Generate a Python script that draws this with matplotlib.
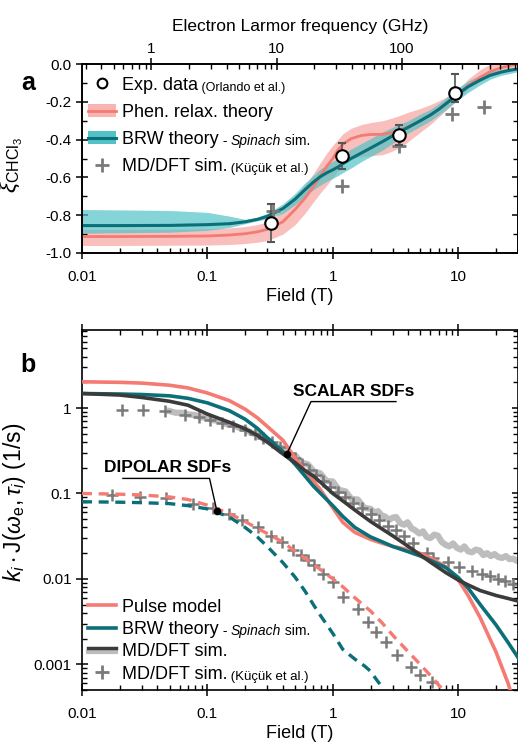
import matplotlib
matplotlib.use("Agg")
import matplotlib.pyplot as plt
from matplotlib.lines import Line2D
from matplotlib.patches import Patch
from matplotlib.legend_handler import HandlerBase
from matplotlib.ticker import FixedLocator, FixedFormatter, LogLocator, MultipleLocator, NullFormatter

plt.rcParams['font.family'] = ['Liberation Sans', 'DejaVu Sans']
plt.rcParams['axes.unicode_minus'] = False
plt.rcParams['mathtext.fontset'] = 'custom'
plt.rcParams['mathtext.rm'] = 'Liberation Sans'
plt.rcParams['mathtext.it'] = 'Liberation Sans:italic'
plt.rcParams['mathtext.bf'] = 'Liberation Sans:bold'

GHZ_PER_T = 28.025

RED = '#f47a73'
RED_BAND = '#f8b4b1'
TEAL = '#0b6f78'
TEAL_BAND = '#52c2c6'
DARK = '#3b3b3b'
LIGHT = '#bdbdbd'
PLUS = '#7a7a7a'

# ---- panel a: xi_CHCl3 vs field ----
a_field = [0.01, 0.02, 0.05, 0.1, 0.15, 0.2, 0.25, 0.3, 0.4, 0.5, 0.6, 0.7, 0.8, 0.9, 1.0,
           1.1, 1.2, 1.4, 1.7, 2.0, 2.5, 3.0, 3.5, 4.0, 5.0, 6.0, 7.0, 8.0, 10, 12, 15, 18, 22, 26, 30]
phen = [-0.913, -0.913, -0.912, -0.910, -0.905, -0.898, -0.888, -0.875, -0.835, -0.77, -0.71, -0.65,
        -0.59, -0.54, -0.50, -0.455, -0.425, -0.395, -0.378, -0.373, -0.372, -0.362, -0.348, -0.332,
        -0.30, -0.27, -0.24, -0.21, -0.16, -0.115, -0.07, -0.04, -0.02, -0.008, 0.0]
phen_lo = [-0.96, -0.96, -0.959, -0.958, -0.955, -0.95, -0.943, -0.935, -0.90, -0.85, -0.79, -0.73,
           -0.68, -0.64, -0.60, -0.565, -0.53, -0.50, -0.49, -0.485, -0.48, -0.46, -0.44, -0.41,
           -0.36, -0.32, -0.28, -0.245, -0.185, -0.13, -0.09, -0.06, -0.04, -0.02, -0.01]
phen_hi = [-0.875, -0.875, -0.874, -0.872, -0.867, -0.86, -0.85, -0.835, -0.78, -0.70, -0.64, -0.58,
           -0.52, -0.47, -0.43, -0.40, -0.37, -0.34, -0.32, -0.31, -0.30, -0.285, -0.27, -0.255,
           -0.235, -0.215, -0.195, -0.175, -0.135, -0.08, -0.03, 0.0, 0.01, 0.01, 0.01]
brw = [-0.855, -0.855, -0.854, -0.850, -0.845, -0.835, -0.822, -0.806, -0.765, -0.715, -0.665, -0.625,
       -0.595, -0.575, -0.56, -0.545, -0.528, -0.50, -0.47, -0.445, -0.41, -0.38, -0.355, -0.335,
       -0.30, -0.27, -0.24, -0.21, -0.158, -0.12, -0.085, -0.06, -0.043, -0.033, -0.026]
brw_lo = [-0.895, -0.893, -0.89, -0.88, -0.865, -0.845, -0.83, -0.82, -0.79, -0.745, -0.70, -0.665,
          -0.64, -0.62, -0.605, -0.59, -0.575, -0.55, -0.515, -0.49, -0.455, -0.42, -0.39, -0.365,
          -0.33, -0.30, -0.27, -0.24, -0.19, -0.15, -0.11, -0.08, -0.06, -0.05, -0.04]
brw_hi = [-0.77, -0.772, -0.775, -0.785, -0.805, -0.822, -0.812, -0.79, -0.74, -0.685, -0.63, -0.59,
          -0.555, -0.535, -0.515, -0.50, -0.48, -0.45, -0.42, -0.395, -0.36, -0.335, -0.315, -0.30,
          -0.265, -0.24, -0.21, -0.18, -0.125, -0.09, -0.06, -0.04, -0.03, -0.02, -0.015]

exp_field = [0.32, 1.19, 3.4, 9.4]
exp_xi = [-0.843, -0.485, -0.376, -0.155]
exp_err_lo = [0.10, 0.068, 0.055, 0.045]
exp_err_hi = [0.10, 0.068, 0.055, 0.10]

md_a_field = [0.333, 1.19, 3.4, 9.0, 16.2]
md_a_xi = [-0.78, -0.644, -0.434, -0.266, -0.226]

# ---- panel b: spectral density functions ----
b_field = [0.01, 0.02, 0.03, 0.05, 0.07, 0.1, 0.15, 0.2, 0.25, 0.3, 0.4, 0.5, 0.6, 0.7, 0.8, 1.0,
           1.2, 1.5, 2.0, 2.5, 3.0, 4.0, 5.0, 6.0, 8.0, 10, 12, 15, 20, 25, 30]
pulse_scalar = [2.03, 2.0, 1.96, 1.85, 1.72, 1.5, 1.22, 0.97, 0.77, 0.61, 0.42, 0.26, 0.185, 0.14,
                0.11, 0.068, 0.046, 0.035, 0.029, 0.026, 0.024, 0.022, 0.0198, 0.0177, 0.0138,
                0.0098, 0.0064, 0.0035, 0.0014, 0.0006, 0.00025]
brw_scalar = [1.48, 1.46, 1.44, 1.39, 1.3, 1.15, 0.93, 0.74, 0.58, 0.45, 0.31, 0.22, 0.16, 0.122,
              0.1, 0.072, 0.054, 0.04, 0.031, 0.027, 0.024, 0.0208, 0.0185, 0.0165, 0.0135,
              0.0104, 0.0078, 0.0050, 0.0029, 0.0018, 0.0012]
md_scalar = [1.48, 1.42, 1.33, 1.2, 1.08, 0.85, 0.68, 0.57, 0.48, 0.40, 0.29, 0.23, 0.185, 0.16,
             0.135, 0.1, 0.082, 0.064, 0.047, 0.038, 0.032, 0.024, 0.019, 0.0157, 0.0118,
             0.0097, 0.0085, 0.0073, 0.0064, 0.0059, 0.0055]

dip_field = [0.01, 0.02, 0.03, 0.05, 0.07, 0.1, 0.15, 0.2, 0.25, 0.3, 0.4, 0.5, 0.6, 0.7, 0.8, 1.0,
             1.2, 1.5, 2.0, 2.5, 3.0, 4.0, 5.0, 6.0, 7.0, 8.0]
pulse_dipolar = [0.1, 0.098, 0.096, 0.091, 0.085, 0.073, 0.058, 0.047, 0.039, 0.034, 0.027, 0.021,
                 0.0175, 0.0148, 0.0128, 0.0100, 0.0081, 0.0060, 0.0042, 0.0030, 0.0022, 0.0014,
                 0.00099, 0.00074, 0.00057, 0.00046]
brw_dip_field = [0.01, 0.02, 0.03, 0.05, 0.07, 0.1, 0.15, 0.2, 0.25, 0.3, 0.4, 0.5, 0.6, 0.7, 0.8,
                 1.0, 1.2, 1.5, 1.8, 2.0, 2.2, 2.5]
brw_dipolar = [0.08, 0.079, 0.078, 0.076, 0.072, 0.066, 0.053, 0.040, 0.031, 0.024, 0.0155, 0.0105,
               0.0072, 0.0050, 0.0037, 0.0023, 0.0015, 0.00115, 0.00095, 0.00083, 0.00068, 0.00053]

# noisy MD/DFT trace (light grey)
md_raw_field = [0.05, 0.056, 0.063, 0.071, 0.079, 0.089, 0.1, 0.112, 0.126, 0.141, 0.158, 0.178,
                0.2, 0.224, 0.251, 0.282, 0.316, 0.355, 0.398, 0.447, 0.501, 0.562, 0.631, 0.708,
                0.794, 0.891, 1.0, 1.12, 1.26, 1.41, 1.58, 1.78,
                2.0, 2.15, 2.3, 2.45, 2.6, 2.8, 3.0, 3.2, 3.45, 3.7, 3.95, 4.25, 4.55, 4.9, 5.25,
                5.6, 6.0, 6.45, 6.9, 7.4, 7.95, 8.5, 9.1, 9.8, 10.5, 11.2, 12.0, 12.9, 13.8, 14.8,
                15.9, 17.0, 18.2, 19.5, 20.9, 22.4, 24.0, 25.7, 27.5, 29.5, 30]
md_raw = [0.92, 0.88, 0.88, 0.84, 0.83, 0.78, 0.77, 0.72, 0.71, 0.65, 0.64, 0.59, 0.57, 0.51, 0.49,
          0.43, 0.41, 0.35, 0.34, 0.28, 0.28, 0.23, 0.22, 0.18, 0.172, 0.14, 0.138, 0.11, 0.106,
          0.086, 0.085, 0.068,
          0.066, 0.060, 0.062, 0.055, 0.054, 0.049, 0.052, 0.053, 0.045, 0.043, 0.046, 0.039,
          0.037, 0.034, 0.036, 0.031, 0.030, 0.033, 0.032, 0.027, 0.025, 0.024, 0.026, 0.023,
          0.022, 0.024, 0.021, 0.0205, 0.022, 0.0215, 0.019, 0.020, 0.0185, 0.0195, 0.018,
          0.0176, 0.0185, 0.017, 0.0172, 0.0162, 0.0165]

kucuk_scalar_field = [0.0207, 0.0308, 0.0463, 0.066, 0.085, 0.105, 0.13, 0.16, 0.2, 0.24, 0.28,
                      0.33, 0.38, 0.44, 0.5, 0.57, 0.65, 0.73, 0.83, 0.95, 1.1, 1.25, 1.45, 1.7,
                      2.0, 2.35, 2.75, 3.2, 3.7, 4.4, 5.6, 6.3, 8.3, 10.2, 13, 15.5, 17.9, 20.9,
                      23.5, 27.4]
kucuk_scalar = [0.95, 0.95, 0.92, 0.84, 0.78, 0.72, 0.67, 0.62, 0.56, 0.5, 0.45, 0.4, 0.35, 0.3,
                0.26, 0.22, 0.19, 0.165, 0.14, 0.12, 0.103, 0.09, 0.078, 0.068, 0.058, 0.049,
                0.042, 0.037, 0.032, 0.026, 0.020, 0.0175, 0.0158, 0.0138, 0.0125, 0.0115,
                0.0108, 0.0100, 0.0094, 0.0088]
kucuk_dip_field = [0.0172, 0.029, 0.047, 0.077, 0.111, 0.15, 0.19, 0.253, 0.323, 0.39, 0.48, 0.56,
                   0.63, 0.71, 0.83, 1.0, 1.21, 1.58, 1.9, 2.2, 2.65, 3.28, 4.2, 5.0, 6.2]
kucuk_dip = [0.095, 0.092, 0.088, 0.075, 0.068, 0.058, 0.049, 0.041, 0.032, 0.027, 0.0216, 0.019,
             0.0166, 0.0144, 0.0115, 0.0091, 0.0061, 0.0044, 0.0031, 0.0024, 0.0018, 0.0013,
             0.00093, 0.00074, 0.00062]

# annotation anchors (field, value)
scalar_dot = (0.43, 0.29)
scalar_knee = (0.67, 1.19)
scalar_end = (3.19, 1.19)
scalar_label = (1.46, 1.58)
dip_dot = (0.119, 0.0625)
dip_knee = (0.104, 0.15)
dip_start = (0.0212, 0.15)
dip_label = (0.0483, 0.2)


class DoubleLine(HandlerBase):
    def create_artists(self, legend, orig_handle, xdescent, ydescent, width, height, fontsize, trans):
        y = height / 2 - ydescent
        x0, x1 = -xdescent, width - xdescent
        low = Line2D([x0, x1], [y - 1.6, y - 1.6], color=LIGHT, lw=3, transform=trans)
        up = Line2D([x0, x1], [y + 1.6, y + 1.6], color=DARK, lw=2.5, transform=trans)
        return [low, up]


def style_ticks(ax):
    ax.tick_params(which='major', direction='inout', length=8, width=1.1, labelsize=11)
    ax.tick_params(which='minor', direction='in', length=3.5, width=1.0)
    for s in ax.spines.values():
        s.set_linewidth(1.2)


def add_suffix(ax, txt, parts):
    prev = txt
    for s, kw in parts:
        prev = ax.annotate(s, xy=(1, 0), xycoords=prev, ha='left', va='bottom', zorder=10,
                           annotation_clip=False, **kw)


fig = plt.figure(figsize=(5.18, 7.44), dpi=100)

# ================= panel a =================
axa = fig.add_axes([82 / 518, 491 / 744, 436 / 518, 189 / 744])
axa.fill_between(a_field, phen_lo, phen_hi, color=RED_BAND, alpha=0.85, lw=0, zorder=1)
axa.fill_between(a_field, brw_lo, brw_hi, color=TEAL_BAND, alpha=0.7, lw=0, zorder=2)
axa.plot(a_field, phen, color=RED, lw=2, zorder=3)
axa.plot(a_field, brw, color=TEAL, lw=2.2, zorder=4)
axa.plot(md_a_field, md_a_xi, ls='none', marker='+', ms=10, mew=2, color=PLUS, zorder=5)
axa.errorbar(exp_field, exp_xi, yerr=[exp_err_lo, exp_err_hi], fmt='o', ms=9, mfc='white',
             mec='black', mew=1.5, ecolor='#555555', elinewidth=1.2, capsize=3, zorder=6)

axa.set_xscale('log')
axa.set_xlim(0.01, 30)
axa.set_ylim(-1.0, 0.0)
axa.yaxis.set_major_locator(MultipleLocator(0.2))
axa.yaxis.set_minor_locator(MultipleLocator(0.1))
axa.yaxis.set_major_formatter(plt.FuncFormatter(lambda v, p: f"{v:.1f}"))
axa.xaxis.set_major_locator(FixedLocator([0.01, 0.1, 1, 10]))
axa.xaxis.set_major_formatter(FixedFormatter(['0.01', '0.1', '1', '10']))
axa.xaxis.set_minor_locator(LogLocator(base=10, subs=range(2, 10)))
axa.xaxis.set_minor_formatter(NullFormatter())
style_ticks(axa)
axa.tick_params(axis='y', which='both', right=True)
axa.tick_params(axis='x', which='major', pad=8)
axa.set_xlabel('Field (T)', fontsize=13, labelpad=3)
axa.set_ylabel(r'$\xi_{\mathrm{CHCl}_3}$', fontsize=16.5)
axa.yaxis.set_label_coords(-0.13, 0.466)

axt = axa.twiny()
axt.set_xscale('log')
axt.set_xlim(0.01 * GHZ_PER_T, 30 * GHZ_PER_T)
axt.xaxis.set_major_locator(FixedLocator([1, 10, 100]))
axt.xaxis.set_major_formatter(FixedFormatter(['1', '10', '100']))
axt.xaxis.set_minor_locator(LogLocator(base=10, subs=range(2, 10)))
axt.xaxis.set_minor_formatter(NullFormatter())
style_ticks(axt)
axt.tick_params(axis='x', which='major', pad=1.5)
axt.set_xlabel('Electron Larmor frequency (GHz)', fontsize=12.5, labelpad=8)

h_exp = Line2D([], [], marker='o', ls='none', mfc='white', mec='black', ms=7, mew=1.5)
h_phen = (Patch(fc=RED_BAND, ec='none'), Line2D([], [], color=RED, lw=2))
h_brw = (Patch(fc=TEAL_BAND, ec='none'), Line2D([], [], color=TEAL, lw=2.2))
h_md = Line2D([], [], marker='+', ls='none', color=PLUS, ms=10, mew=2)
lega = axa.legend([h_exp, h_phen, h_brw, h_md],
                  ['Exp. data', 'Phen. relax. theory', 'BRW theory', 'MD/DFT sim.'],
                  loc='upper left', bbox_to_anchor=(-0.012, 0.99), frameon=False, fontsize=13,
                  handlelength=1.6, handletextpad=0.3, labelspacing=0.56, borderaxespad=0.2)
ta = lega.get_texts()
add_suffix(axa, ta[0], [(' (Orlando et al.)', dict(fontsize=9))])
add_suffix(axa, ta[2], [(' - ', dict(fontsize=10)), ('Spinach', dict(fontsize=10, style='italic')),
                        (' sim.', dict(fontsize=10))])
add_suffix(axa, ta[3], [(' (Küçük et al.)', dict(fontsize=9.5))])

fig.text(28 / 518, 1 - 83 / 744, 'a', fontsize=18, fontweight='bold', ha='center', va='center')

# ================= panel b =================
axb = fig.add_axes([82 / 518, 54 / 744, 436 / 518, 360 / 744])
axb.plot(md_raw_field, md_raw, color=LIGHT, lw=4.5, zorder=1)
axb.plot(kucuk_scalar_field, kucuk_scalar, ls='none', marker='+', ms=8, mew=1.8, color=PLUS, zorder=2)
axb.plot(kucuk_dip_field, kucuk_dip, ls='none', marker='+', ms=8, mew=1.8, color=PLUS, zorder=2)
axb.plot(b_field, pulse_scalar, color=RED, lw=2.6, zorder=3)
axb.plot(b_field, brw_scalar, color=TEAL, lw=2.6, zorder=4)
axb.plot(b_field, md_scalar, color=DARK, lw=2.6, zorder=5)
axb.plot(dip_field, pulse_dipolar, color=RED, lw=2.4, ls=(0, (3, 2)), zorder=3)
axb.plot(brw_dip_field, brw_dipolar, color=TEAL, lw=2.4, ls=(0, (3, 2)), zorder=4)

axb.set_xscale('log')
axb.set_yscale('log')
axb.set_xlim(0.01, 30)
axb.set_ylim(5e-4, 8.2)
axb.xaxis.set_major_locator(FixedLocator([0.01, 0.1, 1, 10]))
axb.xaxis.set_major_formatter(FixedFormatter(['0.01', '0.1', '1', '10']))
axb.xaxis.set_minor_locator(LogLocator(base=10, subs=range(2, 10)))
axb.xaxis.set_minor_formatter(NullFormatter())
axb.yaxis.set_major_locator(FixedLocator([0.001, 0.01, 0.1, 1]))
axb.yaxis.set_major_formatter(FixedFormatter(['0.001', '0.01', '0.1', '1']))
axb.yaxis.set_minor_locator(LogLocator(base=10, subs=range(2, 10), numticks=20))
axb.yaxis.set_minor_formatter(NullFormatter())
style_ticks(axb)
axb.tick_params(which='both', top=True, right=True)
axb.tick_params(axis='x', which='major', pad=8)
axb.set_xlabel('Field (T)', fontsize=13, labelpad=3)
axb.set_ylabel(r'$k_i\cdot\mathrm{J}(\omega_\mathrm{e},\tau_i)$ (1/s)', fontsize=16.5)
axb.yaxis.set_label_coords(-0.124, 0.52)

# annotations
axb.plot([scalar_dot[0], scalar_knee[0], scalar_end[0]], [scalar_dot[1], scalar_knee[1], scalar_end[1]],
         color='black', lw=1, zorder=7)
axb.plot(*scalar_dot, 'o', color='black', ms=4.5, zorder=8)
axb.text(*scalar_label, 'SCALAR SDFs', fontsize=12.5, fontweight='bold', ha='center', va='center', zorder=8)
axb.plot([dip_start[0], dip_knee[0], dip_dot[0]], [dip_start[1], dip_knee[1], dip_dot[1]],
         color='black', lw=1, zorder=7)
axb.plot(*dip_dot, 'o', color='black', ms=4.5, zorder=8)
axb.text(*dip_label, 'DIPOLAR SDFs', fontsize=12.5, fontweight='bold', ha='center', va='center', zorder=8)

md_pair = Line2D([], [])
hb = [Line2D([], [], color=RED, lw=2.6), Line2D([], [], color=TEAL, lw=2.6), md_pair,
      Line2D([], [], marker='+', ls='none', color=PLUS, ms=10, mew=2)]
legb = axb.legend(hb, ['Pulse model', 'BRW theory', 'MD/DFT sim.', 'MD/DFT sim.'],
                  handler_map={md_pair: DoubleLine()}, loc='lower left',
                  bbox_to_anchor=(-0.012, -0.01), frameon=False, fontsize=13,
                  handlelength=1.6, handletextpad=0.3, labelspacing=0.3, borderaxespad=0.2)
tb = legb.get_texts()
add_suffix(axb, tb[1], [(' - ', dict(fontsize=10)), ('Spinach', dict(fontsize=10, style='italic')),
                        (' sim.', dict(fontsize=10))])
add_suffix(axb, tb[3], [(' (Küçük et al.)', dict(fontsize=9.5))])

fig.text(28 / 518, 1 - 365 / 744, 'b', fontsize=18, fontweight='bold', ha='center', va='center')

fig.savefig('out.png', dpi=100)
